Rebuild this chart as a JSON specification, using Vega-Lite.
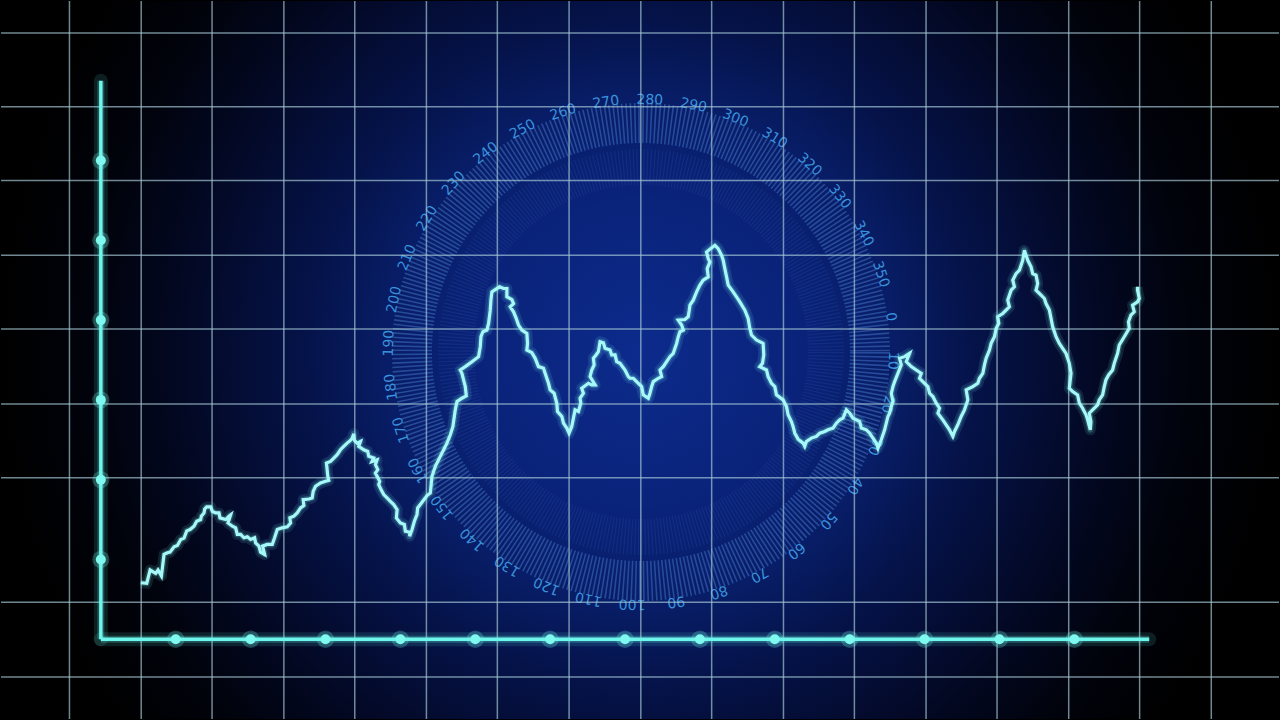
{
  "$schema": "https://vega.github.io/schema/vega-lite/v6.json",
  "width": 1280,
  "height": 720,
  "autosize": {"type": "fit", "contains": "padding"},
  "padding": 0,
  "background": "#000000",
  "view": {"stroke": null},
  "config": {"view": {"stroke": null, "strokeWidth": 0}},
  "datasets": {
    "bg": [{"x": -1.3333, "x2": 15.7333, "y": 11.6, "y2": -4.4}],
    "vgrid": [{"x": -0.419}, {"x": 0.539}, {"x": 1.485}, {"x": 2.444}, {"x": 3.391}, {"x": 4.348}, {"x": 5.295}, {"x": 6.253}, {"x": 7.211}, {"x": 8.157}, {"x": 9.116}, {"x": 10.063}, {"x": 11.02}, {"x": 11.968}, {"x": 12.925}, {"x": 13.872}, {"x": 14.829}],
    "hgrid": [{"y": 7.6}, {"y": 6.675}, {"y": 5.75}, {"y": 4.8125}, {"y": 3.8875}, {"y": 2.95}, {"y": 2.025}, {"y": 0.4625}, {"y": -0.475}],
    "center": [{"x": 7.213, "y": 3.6}],
    "dial": [{"deg": 0}, {"deg": 10}, {"deg": 20}, {"deg": 30}, {"deg": 40}, {"deg": 50}, {"deg": 60}, {"deg": 70}, {"deg": 80}, {"deg": 90}, {"deg": 100}, {"deg": 110}, {"deg": 120}, {"deg": 130}, {"deg": 140}, {"deg": 150}, {"deg": 160}, {"deg": 170}, {"deg": 180}, {"deg": 190}, {"deg": 200}, {"deg": 210}, {"deg": 220}, {"deg": 230}, {"deg": 240}, {"deg": 250}, {"deg": 260}, {"deg": 270}, {"deg": 280}, {"deg": 290}, {"deg": 300}, {"deg": 310}, {"deg": 320}, {"deg": 330}, {"deg": 340}, {"deg": 350}],
    "axes": [{"x": 0, "y": 0, "x2": 0, "y2": 7}, {"x": 0, "y": 0, "x2": 14, "y2": 0}],
    "dots": [{"x": 0, "y": 1}, {"x": 0, "y": 2}, {"x": 0, "y": 3}, {"x": 0, "y": 4}, {"x": 0, "y": 5}, {"x": 0, "y": 6}, {"x": 1, "y": 0}, {"x": 2, "y": 0}, {"x": 3, "y": 0}, {"x": 4, "y": 0}, {"x": 5, "y": 0}, {"x": 6, "y": 0}, {"x": 7, "y": 0}, {"x": 8, "y": 0}, {"x": 9, "y": 0}, {"x": 10, "y": 0}, {"x": 11, "y": 0}, {"x": 12, "y": 0}, {"x": 13, "y": 0}],
    "series": [
      {"x": 0.533, "y": 0.708}, {"x": 0.613, "y": 0.7}, {"x": 0.658, "y": 0.867}, {"x": 0.733, "y": 0.825}, {"x": 0.764, "y": 0.867}, {"x": 0.809, "y": 0.792}, {"x": 0.844, "y": 1.063}, {"x": 0.889, "y": 1.083}, {"x": 0.924, "y": 1.092}, {"x": 0.978, "y": 1.158}, {"x": 1.022, "y": 1.175}, {"x": 1.067, "y": 1.25}, {"x": 1.111, "y": 1.267}, {"x": 1.147, "y": 1.358}, {"x": 1.191, "y": 1.375}, {"x": 1.244, "y": 1.417}, {"x": 1.28, "y": 1.479}, {"x": 1.333, "y": 1.5}, {"x": 1.342, "y": 1.542}, {"x": 1.378, "y": 1.583}, {"x": 1.387, "y": 1.633}, {"x": 1.413, "y": 1.658}, {"x": 1.467, "y": 1.658}, {"x": 1.489, "y": 1.604}, {"x": 1.533, "y": 1.583}, {"x": 1.578, "y": 1.583}, {"x": 1.591, "y": 1.521}, {"x": 1.667, "y": 1.5}, {"x": 1.711, "y": 1.542}, {"x": 1.733, "y": 1.558}, {"x": 1.698, "y": 1.458}, {"x": 1.756, "y": 1.417}, {"x": 1.8, "y": 1.396}, {"x": 1.822, "y": 1.313}, {"x": 1.867, "y": 1.313}, {"x": 1.911, "y": 1.271}, {"x": 1.956, "y": 1.283}, {"x": 2.0, "y": 1.25}, {"x": 2.053, "y": 1.271}, {"x": 2.067, "y": 1.208}, {"x": 2.111, "y": 1.167}, {"x": 2.133, "y": 1.092}, {"x": 2.187, "y": 1.063}, {"x": 2.16, "y": 1.167}, {"x": 2.222, "y": 1.188}, {"x": 2.289, "y": 1.188}, {"x": 2.32, "y": 1.271}, {"x": 2.356, "y": 1.375}, {"x": 2.422, "y": 1.396}, {"x": 2.489, "y": 1.408}, {"x": 2.533, "y": 1.458}, {"x": 2.524, "y": 1.521}, {"x": 2.578, "y": 1.542}, {"x": 2.622, "y": 1.583}, {"x": 2.667, "y": 1.646}, {"x": 2.711, "y": 1.675}, {"x": 2.702, "y": 1.75}, {"x": 2.778, "y": 1.758}, {"x": 2.822, "y": 1.771}, {"x": 2.836, "y": 1.854}, {"x": 2.867, "y": 1.917}, {"x": 2.933, "y": 1.958}, {"x": 3.0, "y": 1.979}, {"x": 3.044, "y": 1.992}, {"x": 3.031, "y": 2.042}, {"x": 3.013, "y": 2.208}, {"x": 3.067, "y": 2.229}, {"x": 3.111, "y": 2.271}, {"x": 3.156, "y": 2.313}, {"x": 3.2, "y": 2.375}, {"x": 3.244, "y": 2.417}, {"x": 3.289, "y": 2.458}, {"x": 3.333, "y": 2.492}, {"x": 3.356, "y": 2.521}, {"x": 3.378, "y": 2.575}, {"x": 3.387, "y": 2.492}, {"x": 3.422, "y": 2.458}, {"x": 3.467, "y": 2.479}, {"x": 3.444, "y": 2.417}, {"x": 3.511, "y": 2.375}, {"x": 3.564, "y": 2.354}, {"x": 3.578, "y": 2.292}, {"x": 3.644, "y": 2.271}, {"x": 3.622, "y": 2.229}, {"x": 3.689, "y": 2.25}, {"x": 3.667, "y": 2.188}, {"x": 3.698, "y": 2.125}, {"x": 3.667, "y": 2.083}, {"x": 3.724, "y": 1.979}, {"x": 3.711, "y": 1.938}, {"x": 3.742, "y": 1.875}, {"x": 3.778, "y": 1.813}, {"x": 3.822, "y": 1.771}, {"x": 3.867, "y": 1.729}, {"x": 3.911, "y": 1.688}, {"x": 3.956, "y": 1.625}, {"x": 3.947, "y": 1.521}, {"x": 4.0, "y": 1.458}, {"x": 4.053, "y": 1.438}, {"x": 4.067, "y": 1.354}, {"x": 4.124, "y": 1.342}, {"x": 4.124, "y": 1.292}, {"x": 4.156, "y": 1.375}, {"x": 4.187, "y": 1.479}, {"x": 4.222, "y": 1.563}, {"x": 4.231, "y": 1.646}, {"x": 4.289, "y": 1.717}, {"x": 4.356, "y": 1.8}, {"x": 4.4, "y": 1.833},
      {"x": 4.422, "y": 2.042}, {"x": 4.467, "y": 2.167}, {"x": 4.533, "y": 2.292}, {"x": 4.578, "y": 2.375}, {"x": 4.622, "y": 2.458}, {"x": 4.667, "y": 2.563}, {"x": 4.702, "y": 2.667}, {"x": 4.733, "y": 2.875}, {"x": 4.756, "y": 2.979}, {"x": 4.822, "y": 3.021}, {"x": 4.88, "y": 3.05}, {"x": 4.867, "y": 3.167}, {"x": 4.844, "y": 3.25}, {"x": 4.822, "y": 3.333}, {"x": 4.8, "y": 3.375}, {"x": 4.867, "y": 3.417}, {"x": 4.956, "y": 3.479}, {"x": 5.044, "y": 3.542}, {"x": 5.067, "y": 3.667}, {"x": 5.076, "y": 3.792}, {"x": 5.102, "y": 3.854}, {"x": 5.156, "y": 3.875}, {"x": 5.178, "y": 3.958}, {"x": 5.2, "y": 4.125}, {"x": 5.209, "y": 4.25}, {"x": 5.222, "y": 4.354}, {"x": 5.267, "y": 4.383}, {"x": 5.324, "y": 4.417}, {"x": 5.378, "y": 4.396}, {"x": 5.422, "y": 4.396}, {"x": 5.422, "y": 4.292}, {"x": 5.489, "y": 4.258}, {"x": 5.511, "y": 4.208}, {"x": 5.467, "y": 4.167}, {"x": 5.511, "y": 4.104}, {"x": 5.547, "y": 4.021}, {"x": 5.578, "y": 3.938}, {"x": 5.622, "y": 3.875}, {"x": 5.689, "y": 3.833}, {"x": 5.698, "y": 3.708}, {"x": 5.689, "y": 3.625}, {"x": 5.756, "y": 3.592}, {"x": 5.8, "y": 3.521}, {"x": 5.844, "y": 3.417}, {"x": 5.911, "y": 3.396}, {"x": 5.933, "y": 3.333}, {"x": 5.978, "y": 3.208}, {"x": 6.0, "y": 3.125}, {"x": 6.053, "y": 3.083}, {"x": 6.089, "y": 2.958}, {"x": 6.098, "y": 2.854}, {"x": 6.156, "y": 2.792}, {"x": 6.178, "y": 2.708}, {"x": 6.222, "y": 2.646}, {"x": 6.253, "y": 2.583}, {"x": 6.289, "y": 2.667}, {"x": 6.311, "y": 2.771}, {"x": 6.333, "y": 2.875}, {"x": 6.378, "y": 2.854}, {"x": 6.409, "y": 2.958}, {"x": 6.4, "y": 3.021}, {"x": 6.444, "y": 3.083}, {"x": 6.422, "y": 3.146}, {"x": 6.511, "y": 3.208}, {"x": 6.556, "y": 3.188}, {"x": 6.6, "y": 3.188}, {"x": 6.533, "y": 3.292}, {"x": 6.556, "y": 3.375}, {"x": 6.587, "y": 3.438}, {"x": 6.578, "y": 3.521}, {"x": 6.613, "y": 3.563}, {"x": 6.644, "y": 3.604}, {"x": 6.667, "y": 3.729}, {"x": 6.711, "y": 3.717}, {"x": 6.733, "y": 3.646}, {"x": 6.8, "y": 3.625}, {"x": 6.822, "y": 3.563}, {"x": 6.867, "y": 3.563}, {"x": 6.889, "y": 3.479}, {"x": 6.933, "y": 3.458}, {"x": 7.0, "y": 3.375}, {"x": 7.044, "y": 3.292}, {"x": 7.067, "y": 3.271},
      {"x": 7.111, "y": 3.271}, {"x": 7.178, "y": 3.208}, {"x": 7.222, "y": 3.167}, {"x": 7.244, "y": 3.063}, {"x": 7.311, "y": 3.021}, {"x": 7.333, "y": 3.083}, {"x": 7.356, "y": 3.167}, {"x": 7.378, "y": 3.229}, {"x": 7.444, "y": 3.271}, {"x": 7.489, "y": 3.292}, {"x": 7.467, "y": 3.375}, {"x": 7.511, "y": 3.417}, {"x": 7.556, "y": 3.479}, {"x": 7.6, "y": 3.542}, {"x": 7.644, "y": 3.583}, {"x": 7.667, "y": 3.646}, {"x": 7.689, "y": 3.708}, {"x": 7.711, "y": 3.792}, {"x": 7.733, "y": 3.854}, {"x": 7.778, "y": 3.875}, {"x": 7.756, "y": 3.938}, {"x": 7.711, "y": 4.0}, {"x": 7.8, "y": 4.008}, {"x": 7.844, "y": 4.042}, {"x": 7.858, "y": 4.125}, {"x": 7.867, "y": 4.188}, {"x": 7.911, "y": 4.25}, {"x": 7.956, "y": 4.354}, {"x": 8.0, "y": 4.438}, {"x": 8.044, "y": 4.5}, {"x": 8.111, "y": 4.542}, {"x": 8.098, "y": 4.646}, {"x": 8.133, "y": 4.729}, {"x": 8.111, "y": 4.771}, {"x": 8.089, "y": 4.854}, {"x": 8.142, "y": 4.896}, {"x": 8.2, "y": 4.938}, {"x": 8.244, "y": 4.896}, {"x": 8.267, "y": 4.854}, {"x": 8.289, "y": 4.813}, {"x": 8.311, "y": 4.75}, {"x": 8.333, "y": 4.646}, {"x": 8.356, "y": 4.542}, {"x": 8.378, "y": 4.438}, {"x": 8.444, "y": 4.354}, {"x": 8.489, "y": 4.292}, {"x": 8.533, "y": 4.229}, {"x": 8.6, "y": 4.125}, {"x": 8.644, "y": 4.021}, {"x": 8.667, "y": 3.896}, {"x": 8.689, "y": 3.813}, {"x": 8.756, "y": 3.75}, {"x": 8.844, "y": 3.708}, {"x": 8.853, "y": 3.563}, {"x": 8.836, "y": 3.458}, {"x": 8.8, "y": 3.417}, {"x": 8.889, "y": 3.375}, {"x": 8.911, "y": 3.292}, {"x": 8.956, "y": 3.208}, {"x": 9.0, "y": 3.167}, {"x": 9.022, "y": 3.063}, {"x": 9.111, "y": 3.0}, {"x": 9.156, "y": 2.917}, {"x": 9.178, "y": 2.813}, {"x": 9.222, "y": 2.729}, {"x": 9.244, "y": 2.667}, {"x": 9.267, "y": 2.583}, {"x": 9.311, "y": 2.508}, {"x": 9.378, "y": 2.458}, {"x": 9.4, "y": 2.417}, {"x": 9.422, "y": 2.479}, {"x": 9.489, "y": 2.521}, {"x": 9.556, "y": 2.542}, {"x": 9.6, "y": 2.583}, {"x": 9.667, "y": 2.604}, {"x": 9.711, "y": 2.625}, {"x": 9.778, "y": 2.646}, {"x": 9.822, "y": 2.708}, {"x": 9.867, "y": 2.75}, {"x": 9.911, "y": 2.771}, {"x": 9.956, "y": 2.875}, {"x": 10.0, "y": 2.833}, {"x": 10.044, "y": 2.771}, {"x": 10.089, "y": 2.75}, {"x": 10.133, "y": 2.729}, {"x": 10.156, "y": 2.646}, {"x": 10.222, "y": 2.625}, {"x": 10.267, "y": 2.583}, {"x": 10.311, "y": 2.521}, {"x": 10.356, "y": 2.458}, {"x": 10.378, "y": 2.396}, {"x": 10.422, "y": 2.5}, {"x": 10.467, "y": 2.625}, {"x": 10.511, "y": 2.792},
      {"x": 10.533, "y": 2.833}, {"x": 10.556, "y": 2.917}, {"x": 10.578, "y": 2.979}, {"x": 10.556, "y": 3.083}, {"x": 10.578, "y": 3.167}, {"x": 10.6, "y": 3.229},
      {"x": 10.644, "y": 3.333}, {"x": 10.689, "y": 3.438}, {"x": 10.667, "y": 3.521}, {"x": 10.733, "y": 3.542}, {"x": 10.8, "y": 3.583}, {"x": 10.756, "y": 3.479}, {"x": 10.822, "y": 3.417}, {"x": 10.889, "y": 3.375}, {"x": 10.956, "y": 3.333}, {"x": 10.933, "y": 3.271}, {"x": 11.0, "y": 3.208}, {"x": 11.044, "y": 3.167}, {"x": 11.067, "y": 3.083}, {"x": 11.111, "y": 3.042}, {"x": 11.156, "y": 2.958}, {"x": 11.2, "y": 2.896}, {"x": 11.178, "y": 2.833}, {"x": 11.244, "y": 2.75}, {"x": 11.289, "y": 2.688}, {"x": 11.333, "y": 2.625}, {"x": 11.378, "y": 2.542}, {"x": 11.4, "y": 2.604}, {"x": 11.444, "y": 2.688}, {"x": 11.489, "y": 2.792}, {"x": 11.533, "y": 2.875}, {"x": 11.578, "y": 3.0}, {"x": 11.556, "y": 3.125}, {"x": 11.644, "y": 3.167}, {"x": 11.711, "y": 3.208}, {"x": 11.733, "y": 3.271}, {"x": 11.778, "y": 3.333}, {"x": 11.8, "y": 3.438}, {"x": 11.822, "y": 3.521}, {"x": 11.867, "y": 3.625}, {"x": 11.889, "y": 3.708}, {"x": 11.933, "y": 3.792}, {"x": 11.956, "y": 3.896}, {"x": 11.991, "y": 3.958}, {"x": 11.978, "y": 4.042}, {"x": 12.044, "y": 4.083}, {"x": 12.089, "y": 4.125}, {"x": 12.133, "y": 4.167}, {"x": 12.111, "y": 4.25}, {"x": 12.156, "y": 4.375}, {"x": 12.2, "y": 4.417}, {"x": 12.178, "y": 4.5}, {"x": 12.222, "y": 4.583}, {"x": 12.267, "y": 4.625}, {"x": 12.311, "y": 4.75}, {"x": 12.333, "y": 4.875}, {"x": 12.356, "y": 4.813}, {"x": 12.378, "y": 4.75}, {"x": 12.422, "y": 4.667}, {"x": 12.444, "y": 4.583}, {"x": 12.489, "y": 4.563}, {"x": 12.511, "y": 4.458}, {"x": 12.489, "y": 4.375}, {"x": 12.556, "y": 4.313}, {"x": 12.6, "y": 4.271}, {"x": 12.622, "y": 4.208}, {"x": 12.667, "y": 4.125}, {"x": 12.689, "y": 4.021}, {"x": 12.711, "y": 3.917}, {"x": 12.756, "y": 3.792}, {"x": 12.8, "y": 3.708}, {"x": 12.844, "y": 3.646}, {"x": 12.889, "y": 3.583}, {"x": 12.933, "y": 3.458}, {"x": 12.956, "y": 3.333}, {"x": 12.933, "y": 3.146}, {"x": 12.978, "y": 3.104}, {"x": 13.044, "y": 3.063}, {"x": 13.067, "y": 2.958}, {"x": 13.111, "y": 2.896}, {"x": 13.156, "y": 2.813}, {"x": 13.178, "y": 2.75}, {"x": 13.213, "y": 2.625}, {"x": 13.222, "y": 2.729}, {"x": 13.2, "y": 2.833}, {"x": 13.244, "y": 2.875}, {"x": 13.311, "y": 2.938}, {"x": 13.333, "y": 3.0}, {"x": 13.378, "y": 3.063}, {"x": 13.4, "y": 3.167}, {"x": 13.422, "y": 3.25}, {"x": 13.458, "y": 3.313}, {"x": 13.511, "y": 3.375}, {"x": 13.533, "y": 3.458}, {"x": 13.578, "y": 3.583}, {"x": 13.6, "y": 3.688}, {"x": 13.667, "y": 3.792}, {"x": 13.733, "y": 3.896}, {"x": 13.724, "y": 3.979}, {"x": 13.756, "y": 4.063}, {"x": 13.8, "y": 4.104}, {"x": 13.778, "y": 4.188}, {"x": 13.844, "y": 4.229}, {"x": 13.867, "y": 4.271}, {"x": 13.844, "y": 4.375}, {"x": 13.844, "y": 4.417}
    ]
  },
  "layer": [
    {
      "data": {"name": "bg"},
      "mark": {"type": "rect", "clip": true, "strokeWidth": 0, "fill": {"gradient": "radial", "x1": 0.5, "y1": 0.5, "r1": 0, "x2": 0.5, "y2": 0.5, "r2": 0.5, "stops": [{"offset": 0, "color": "#0c2b8c"}, {"offset": 0.25, "color": "#0a237a"}, {"offset": 0.4, "color": "#081d66"}, {"offset": 0.52, "color": "#05134a"}, {"offset": 0.7, "color": "#030927"}, {"offset": 0.85, "color": "#01030d"}, {"offset": 1, "color": "#000000"}]}},
      "encoding": {
        "x": {"field": "x", "type": "quantitative", "scale": {"domain": [-1.3333, 15.7333], "nice": false, "zero": false}, "axis": null},
        "x2": {"field": "x2"},
        "y": {"field": "y", "type": "quantitative", "scale": {"domain": [-1, 8], "nice": false, "zero": false}, "axis": null},
        "y2": {"field": "y2"}
      }
    },
    {
      "data": {"name": "center"},
      "mark": {"type": "point", "shape": "circle", "filled": false, "stroke": "#3a6cc4", "strokeOpacity": 0.25, "strokeWidth": 36, "strokeDash": [1.2, 2.2]},
      "encoding": {
        "x": {"field": "x", "type": "quantitative"},
        "y": {"field": "y", "type": "quantitative"},
        "size": {"value": 136900}
      }
    },
    {
      "data": {"name": "center"},
      "mark": {"type": "point", "shape": "circle", "filled": false, "stroke": "#5088dc", "strokeOpacity": 0.6, "strokeWidth": 40, "strokeDash": [1.6, 2.4]},
      "encoding": {
        "x": {"field": "x", "type": "quantitative"},
        "y": {"field": "y", "type": "quantitative"},
        "size": {"value": 209764}
      }
    },
    {
      "data": {"name": "dial"},
      "mark": {"type": "text", "radius": 252, "font": "DejaVu Sans", "fontSize": 14, "color": "#3a92dc", "align": "center", "baseline": "middle"},
      "encoding": {
        "x": {"datum": 7.213, "type": "quantitative"},
        "y": {"datum": 3.6, "type": "quantitative"},
        "theta": {"field": "deg", "type": "quantitative", "scale": {"domain": [0, 360], "range": [1.4312, 7.7144]}},
        "angle": {"field": "deg", "type": "quantitative", "scale": {"domain": [0, 360], "range": [82, 442]}},
        "text": {"field": "deg", "type": "quantitative"}
      }
    },
    {
      "data": {"name": "vgrid"},
      "mark": {"type": "rule", "color": "#a6c8d6", "opacity": 0.68, "strokeWidth": 1.5},
      "encoding": {"x": {"field": "x", "type": "quantitative"}}
    },
    {
      "data": {"name": "hgrid"},
      "mark": {"type": "rule", "color": "#a6c8d6", "opacity": 0.68, "strokeWidth": 1.5},
      "encoding": {"y": {"field": "y", "type": "quantitative"}}
    },
    {
      "data": {"name": "axes"},
      "mark": {"type": "rule", "color": "#5ff3e6", "opacity": 0.12, "strokeWidth": 14, "strokeCap": "round"},
      "encoding": {"x": {"field": "x", "type": "quantitative"}, "x2": {"field": "x2"}, "y": {"field": "y", "type": "quantitative"}, "y2": {"field": "y2"}}
    },
    {
      "data": {"name": "axes"},
      "mark": {"type": "rule", "color": "#5ff3e6", "opacity": 0.25, "strokeWidth": 7},
      "encoding": {"x": {"field": "x", "type": "quantitative"}, "x2": {"field": "x2"}, "y": {"field": "y", "type": "quantitative"}, "y2": {"field": "y2"}}
    },
    {
      "data": {"name": "axes"},
      "mark": {"type": "rule", "color": "#6ff6ec", "strokeWidth": 3.5},
      "encoding": {"x": {"field": "x", "type": "quantitative"}, "x2": {"field": "x2"}, "y": {"field": "y", "type": "quantitative"}, "y2": {"field": "y2"}}
    },
    {
      "data": {"name": "dots"},
      "mark": {"type": "point", "shape": "circle", "filled": true, "color": "#6ff6ec", "opacity": 0.25},
      "encoding": {"x": {"field": "x", "type": "quantitative"}, "y": {"field": "y", "type": "quantitative"}, "size": {"value": 300}}
    },
    {
      "data": {"name": "dots"},
      "mark": {"type": "point", "shape": "circle", "filled": true, "color": "#7ff8ef", "opacity": 1},
      "encoding": {"x": {"field": "x", "type": "quantitative"}, "y": {"field": "y", "type": "quantitative"}, "size": {"value": 100}}
    },
    {
      "data": {"name": "series"},
      "mark": {"type": "line", "color": "#7ff4f2", "opacity": 0.12, "strokeWidth": 11, "strokeJoin": "round"},
      "encoding": {"x": {"field": "x", "type": "quantitative"}, "y": {"field": "y", "type": "quantitative"}, "order": {"value": null}}
    },
    {
      "data": {"name": "series"},
      "mark": {"type": "line", "color": "#7ff4f2", "opacity": 0.22, "strokeWidth": 6, "strokeJoin": "round"},
      "encoding": {"x": {"field": "x", "type": "quantitative"}, "y": {"field": "y", "type": "quantitative"}, "order": {"value": null}}
    },
    {
      "data": {"name": "series"},
      "mark": {"type": "line", "color": "#a6f9f8", "strokeWidth": 3.2, "strokeJoin": "miter"},
      "encoding": {"x": {"field": "x", "type": "quantitative"}, "y": {"field": "y", "type": "quantitative"}, "order": {"value": null}}
    }
  ]
}
